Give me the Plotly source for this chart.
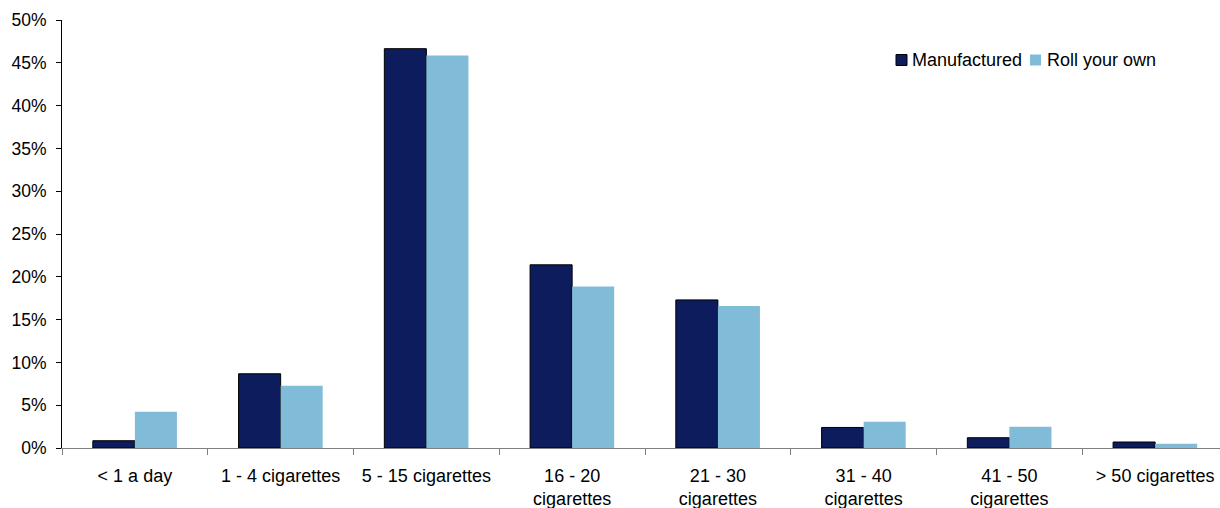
import plotly.graph_objects as go

categories = ["< 1 a day", "1 - 4 cigarettes", "5 - 15 cigarettes", "16 - 20<br>cigarettes",
              "21 - 30<br>cigarettes", "31 - 40<br>cigarettes", "41 - 50<br>cigarettes",
              "> 50 cigarettes"]
manufactured = [0.0085, 0.0867, 0.4665, 0.214, 0.173, 0.024, 0.012, 0.007]
roll_your_own = [0.0424, 0.0727, 0.4584, 0.1887, 0.166, 0.0307, 0.0249, 0.005]
y_ticks = [0, 0.05, 0.10, 0.15, 0.20, 0.25, 0.30, 0.35, 0.40, 0.45, 0.50]

series_names = ["Manufactured", "Roll your own"]
series_colors = ["#0c1c5c", "#80bbd8"]
series_outline = ["#000000", None]

W, H = 1220, 508
M_L, M_R, M_T, M_B = 62, 0, 20, 60
plot_w, plot_h = W - M_L - M_R, H - M_T - M_B


def px_x(px):
    """Pixel column -> paper x fraction."""
    return (px - M_L) / plot_w


def px_y(py):
    """Pixel row -> paper y fraction."""
    return 1 - (py - M_T) / plot_h


fig = go.Figure()
for name, vals, col, outline in zip(series_names, [manufactured, roll_your_own],
                                    series_colors, series_outline):
    line = dict(color=outline, width=1) if outline else dict(width=0)
    fig.add_trace(go.Bar(x=categories, y=vals, name=name,
                         marker=dict(color=col, line=line)))

# Legend: small swatch followed by the series name, laid out in one row
legend_items = [(896, 912), (1030, 1047)]
for (sw_x, tx_x), name, col, outline in zip(legend_items, series_names,
                                           series_colors, series_outline):
    fig.add_shape(type="rect", xref="paper", yref="paper",
                  x0=px_x(sw_x), x1=px_x(sw_x + 11), y0=px_y(65.5), y1=px_y(54.5),
                  fillcolor=col,
                  line=dict(color=outline, width=1) if outline else dict(width=0))
    fig.add_annotation(text=name, xref="paper", yref="paper", x=px_x(tx_x - 2),
                       y=px_y(60), xanchor="left", yanchor="middle", showarrow=False,
                       font=dict(size=18, color="#000000"))

fig.update_layout(
    width=W, height=H,
    margin=dict(l=M_L, r=M_R, t=M_T, b=M_B),
    plot_bgcolor="white", paper_bgcolor="white",
    barmode="group", bargap=0.423, bargroupgap=0,
    font=dict(family="Liberation Sans, Arial, sans-serif", size=18, color="#000000"),
    showlegend=False,
)
# The last category runs slightly past the right edge of the canvas
fig.update_xaxes(
    type="category", range=[-0.5, 7.445], tickson="boundaries", ticks="outside", ticklen=6,
    tickcolor="#808080", showline=True, linecolor="#808080", linewidth=1,
    showgrid=False, tickfont=dict(size=18), ticklabelstandoff=11, automargin=False,
)
fig.update_yaxes(
    range=[0, 0.5], tickvals=y_ticks, tickformat=".0%", ticks="outside", ticklen=5,
    tickcolor="#000000", showline=True, linecolor="#000000", linewidth=1,
    showgrid=False, zeroline=False, tickfont=dict(size=17.5), ticklabelstandoff=6,
    automargin=False,
)

fig.write_html("out.html")
